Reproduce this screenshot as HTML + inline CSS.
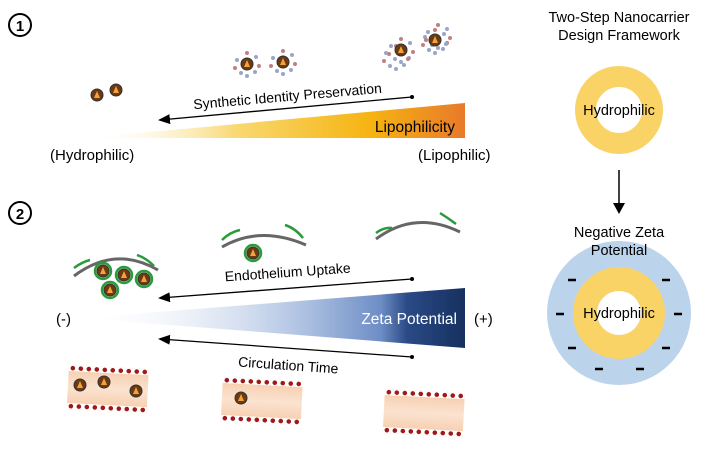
<!DOCTYPE html>
<html><head><meta charset="utf-8"><style>
body{margin:0;background:#fff}
svg{display:block;font-family:"Liberation Sans",sans-serif}
</style></head><body>
<svg width="709" height="453" viewBox="0 0 709 453">
<defs>
<linearGradient id="og" x1="85" x2="465" gradientUnits="userSpaceOnUse"><stop offset="0" stop-color="#fff" stop-opacity="0"/><stop offset="0.4" stop-color="#f8d870"/><stop offset="0.75" stop-color="#f6b412"/><stop offset="1" stop-color="#e8792a"/></linearGradient>
<linearGradient id="bg" x1="80" x2="465" gradientUnits="userSpaceOnUse"><stop offset="0" stop-color="#fff" stop-opacity="0"/><stop offset="0.6" stop-color="#a8bde0"/><stop offset="0.78" stop-color="#6f8ec6"/><stop offset="0.85" stop-color="#2a4a86"/><stop offset="1" stop-color="#16305f"/></linearGradient>
<linearGradient id="vg" x1="0" y1="0" x2="0" y2="1"><stop offset="0" stop-color="#f5c9a8"/><stop offset="0.5" stop-color="#fbe3d0"/><stop offset="1" stop-color="#f5c9a8"/></linearGradient>
<marker id="ah" markerWidth="12" markerHeight="10" refX="10" refY="5" orient="auto" markerUnits="userSpaceOnUse"><path d="M0,0 L12,5 L0,10 Z" fill="#000"/></marker>
<g id="np"><circle r="6" fill="#6b3a12" stroke="#333" stroke-width="1"/><path d="M-3,3 L0,-4 L3,3 Z" fill="#f4a23a"/></g>
<g id="row"><rect x="0" y="0" width="80" height="6" fill="#fff"/>
<g fill="#a01818"><circle cx="4" cy="3" r="2.3"/><circle cx="12" cy="3" r="2.3"/><circle cx="20" cy="3" r="2.3"/><circle cx="28" cy="3" r="2.3"/><circle cx="36" cy="3" r="2.3"/><circle cx="44" cy="3" r="2.3"/><circle cx="52" cy="3" r="2.3"/><circle cx="60" cy="3" r="2.3"/><circle cx="68" cy="3" r="2.3"/><circle cx="76" cy="3" r="2.3"/></g></g>
<g id="vessel"><rect x="0" y="0" width="80" height="44" fill="url(#vg)"/><use href="#row" y="0"/><use href="#row" y="38"/></g>
<g id="fuzz" fill="#9aa6c8"><circle cx="-10" cy="-4" r="2"/><circle cx="9" cy="-7" r="2"/><circle cx="-6" cy="9" r="2"/><circle cx="8" cy="8" r="2"/><circle cx="0" cy="-11" r="2" fill="#c08080"/><circle cx="12" cy="2" r="2" fill="#c08080"/><circle cx="-12" cy="4" r="2" fill="#c08080"/><circle cx="0" cy="12" r="2"/></g>
</defs>

<!-- Step 1 -->
<circle cx="20" cy="25" r="11" fill="none" stroke="#000" stroke-width="2"/>
<text x="20" y="31" font-size="15" font-weight="bold" text-anchor="middle">1</text>
<polygon points="85,138 465,103 465,138" fill="url(#og)"/>
<text x="455" y="132" font-size="15.5" text-anchor="end">Lipophilicity</text>
<text x="50" y="160" font-size="15">(Hydrophilic)</text>
<text x="418" y="160" font-size="15">(Lipophilic)</text>
<line x1="412" y1="97" x2="160" y2="120" stroke="#000" stroke-width="1.3" marker-end="url(#ah)"/>
<circle cx="412" cy="97" r="2" fill="#000"/>
<text x="288" y="101" font-size="14" text-anchor="middle" transform="rotate(-5 288 101)">Synthetic Identity Preservation</text>
<use href="#np" x="97" y="95"/><use href="#np" x="116" y="90"/>
<use href="#fuzz" x="247" y="64"/><use href="#np" x="247" y="64"/>
<use href="#fuzz" x="283" y="62"/><use href="#np" x="283" y="62"/>
<use href="#fuzz" x="401" y="50"/><use href="#fuzz" x="396" y="57"/><use href="#np" x="401" y="50"/>
<use href="#fuzz" x="435" y="41"/><use href="#fuzz" x="438" y="36"/><use href="#np" x="435" y="40"/>

<!-- Step 2 -->
<circle cx="20" cy="213" r="11" fill="none" stroke="#000" stroke-width="2"/>
<text x="20" y="219" font-size="15" font-weight="bold" text-anchor="middle">2</text>
<polygon points="80,318 465,288 465,348" fill="url(#bg)"/>
<text x="457" y="324" font-size="15.5" fill="#fff" text-anchor="end">Zeta Potential</text>
<text x="56" y="324" font-size="15">(-)</text>
<text x="474" y="324" font-size="15">(+)</text>
<line x1="412" y1="279" x2="160" y2="298" stroke="#000" stroke-width="1.3" marker-end="url(#ah)"/>
<circle cx="412" cy="279" r="2" fill="#000"/>
<text x="288" y="277" font-size="14" text-anchor="middle" transform="rotate(-4 288 277)">Endothelium Uptake</text>
<line x1="412" y1="357" x2="160" y2="339" stroke="#000" stroke-width="1.3" marker-end="url(#ah)"/>
<circle cx="412" cy="357" r="2" fill="#000"/>
<text x="288" y="370" font-size="14" text-anchor="middle" transform="rotate(4 288 370)">Circulation Time</text>

<!-- membranes -->
<g fill="none" stroke-width="3">
<path d="M74,276 Q115,245 158,270" stroke="#666"/>
<path d="M222,247 Q260,225 306,245" stroke="#666"/>
<path d="M376,239 Q415,210 460,232" stroke="#666"/>
</g>
<g fill="none" stroke="#2a9a3a" stroke-width="2.5">
<path d="M74,268 Q82,262 90,260"/><path d="M137,255 Q146,258 154,266"/>
<path d="M222,240 Q230,232 240,230"/><path d="M285,225 Q295,228 303,238"/>
<path d="M376,233 Q384,227 392,228"/><path d="M440,213 Q448,218 456,224"/>
</g>
<g fill="none" stroke="#2a9a3a" stroke-width="2.5">
<circle cx="103" cy="271" r="8"/><circle cx="124" cy="275" r="8"/><circle cx="144" cy="279" r="8"/><circle cx="110" cy="290" r="8"/><circle cx="253" cy="253" r="8"/>
</g>
<use href="#np" x="103" y="271"/><use href="#np" x="124" y="275"/><use href="#np" x="144" y="279"/><use href="#np" x="110" y="290"/><use href="#np" x="253" y="253"/>

<!-- vessels -->
<g transform="translate(69,365) rotate(3)"><use href="#vessel"/></g>
<use href="#np" x="80" y="385"/><use href="#np" x="104" y="382"/><use href="#np" x="136" y="391"/>
<g transform="translate(223,377) rotate(3)"><use href="#vessel"/></g>
<use href="#np" x="241" y="398"/>
<g transform="translate(385,389) rotate(3)"><use href="#vessel"/></g>

<!-- right -->
<text x="619" y="22" font-size="14.5" text-anchor="middle">Two-Step Nanocarrier</text>
<text x="619" y="40" font-size="14.5" text-anchor="middle">Design Framework</text>
<circle cx="619" cy="110" r="33.5" fill="none" stroke="#fad366" stroke-width="21"/>
<text x="619" y="115" font-size="14.5" text-anchor="middle">Hydrophilic</text>
<line x1="619" y1="170" x2="619" y2="203" stroke="#000" stroke-width="1.5"/>
<path d="M613,203 L625,203 L619,214 Z" fill="#000"/>
<circle cx="619" cy="313" r="72" fill="#bcd3ec"/>
<circle cx="619" cy="313" r="34" fill="none" stroke="#fad366" stroke-width="24"/>
<circle cx="619" cy="313" r="22" fill="#fff"/>
<text x="619" y="237" font-size="14.5" text-anchor="middle">Negative Zeta</text>
<text x="619" y="255" font-size="14.5" text-anchor="middle">Potential</text>
<text x="619" y="318" font-size="14.5" text-anchor="middle">Hydrophilic</text>
<g stroke="#000" stroke-width="2.5">
<line x1="568" y1="280" x2="576" y2="280"/><line x1="662" y1="280" x2="670" y2="280"/>
<line x1="556" y1="314" x2="564" y2="314"/><line x1="674" y1="314" x2="682" y2="314"/>
<line x1="568" y1="348" x2="576" y2="348"/><line x1="662" y1="348" x2="670" y2="348"/>
<line x1="595" y1="369" x2="603" y2="369"/><line x1="636" y1="369" x2="644" y2="369"/>
</g>
</svg>
</body></html>
